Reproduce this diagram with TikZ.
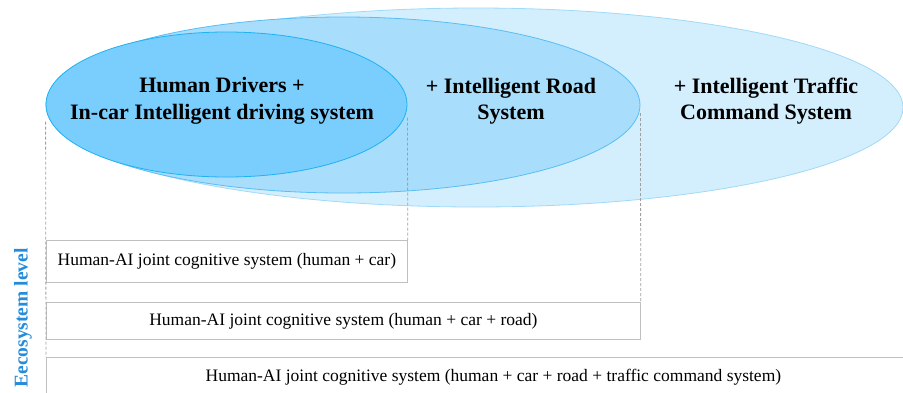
\documentclass[tikz,border=0pt]{standalone}
\usepackage{fontspec}
\setmainfont{Liberation Serif}
\usetikzlibrary{calc,shapes.geometric}
\definecolor{carfill}{RGB}{122,206,254}
\definecolor{carline}{RGB}{30,178,240}
\definecolor{roadfill}{RGB}{168,222,252}
\definecolor{roadline}{RGB}{88,190,245}
\definecolor{trafficfill}{RGB}{211,238,252}
\definecolor{trafficline}{RGB}{160,218,248}
\definecolor{boxgray}{RGB}{192,192,192}
\definecolor{dashgray}{RGB}{160,160,160}
\definecolor{ecoblue}{RGB}{38,140,218}
\begin{document}
\begin{tikzpicture}[x=1pt,y=-1pt,
  level/.style={ellipse,line width=0.8pt,inner sep=0pt},
  leveltext/.style={font=\fontsize{22}{26.5}\selectfont\bfseries,align=center},
  sysbox/.style={draw=boxgray,line width=0.8pt,anchor=north west,inner sep=0pt,
    font=\fontsize{17.5}{21}\selectfont},
  guide/.style={draw=dashgray,line width=0.8pt,dash pattern=on 3pt off 2pt}]
\useasboundingbox (0,0) rectangle (903,392);
% the three levels, largest first
\node[level,fill=trafficfill,draw=trafficline,minimum width=854,minimum height=199]
  (e3) at (476,107.5) {};
\node[level,fill=roadfill,draw=roadline,minimum width=594,minimum height=176]
  (e2) at (343,105) {};
\node[level,fill=carfill,draw=carline,minimum width=361,minimum height=145]
  (e1) at (226.5,104.5) {};
\node[leveltext] (t1) at (222,101) {Human Drivers +\\In-car Intelligent driving system};
\node[leveltext] (t2) at (511,101) {+ Intelligent Road\\System};
\node[leveltext] (t3) at (766,101) {+ Intelligent Traffic\\Command System};
% joint cognitive systems
\node[sysbox,minimum width=361,minimum height=42] (b1) at (46,240)
  {Human-AI joint cognitive system (human + car)};
\node[sysbox,minimum width=594,minimum height=37] (b2) at (46,302)
  {Human-AI joint cognitive system (human + car + road)};
\node[sysbox,minimum width=894,minimum height=40] (b3) at (46,357)
  {Human-AI joint cognitive system (human + car + road + traffic command system)};
\draw[guide] ($(e1.west)+(0,17)$) -- (b3.north west);
\draw[guide] ($(e1.east)+(0,13)$) -- (b1.north east);
\draw[guide] ($(e2.east)+(0,8)$) -- (b2.north east);
\node[rotate=90,text=ecoblue,font=\fontsize{19.5}{22}\selectfont\bfseries]
  (eco) at (23,318) {Eecosystem level};
\end{tikzpicture}
\end{document}
